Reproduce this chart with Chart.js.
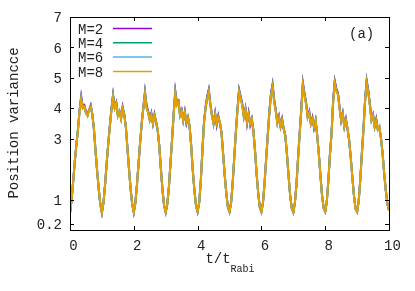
<!DOCTYPE html>
<html>
<head>
<meta charset="utf-8">
<script src="https://cdn.jsdelivr.net/npm/chart.js@4"></script>
<style>
  html, body { margin: 0; padding: 0; background: #fff; }
  #wrap { width: 415px; height: 291px; }
</style>
</head>
<body>
<div id="wrap"><canvas id="chart" width="415" height="291"></canvas></div>
<script>
// 1) Data: t/t_Rabi from 0 to 10 in steps of 0.05
const times = Array.from({ length: 201 }, (_, i) => +(i * 0.05).toFixed(2));
const seriesLabels = ['M=2', 'M=4', 'M=6', 'M=8'];
const yTicks = [0.2, 1, 3, 4, 5, 6, 7];
const xTicks = [0, 2, 4, 6, 8, 10];

const m2 = [
  0.55, 1.0, 1.6, 2.25, 2.8, 3.3, 3.95, 4.4, 4.05, 4.1, 3.9, 3.8, 3.95, 4.1, 3.8, 3.3, 2.6, 1.95, 1.35, 0.85,
  0.57, 0.9, 1.5, 2.2, 2.85, 3.45, 4.0, 4.45, 4.05, 4.2, 3.8, 3.9, 3.7, 4.05, 3.8, 3.4, 2.7, 2.0, 1.35, 0.85,
  0.58, 0.9, 1.5, 2.2, 2.9, 3.55, 4.05, 4.55, 4.1, 3.9, 3.65, 3.85, 3.5, 3.8, 3.55, 3.25, 2.75, 2.0, 1.3, 0.8,
  0.58, 0.85, 1.4, 2.2, 3.0, 3.85, 4.58, 4.2, 4.25, 3.8, 3.95, 3.6, 3.9, 3.5, 3.7, 3.4, 2.75, 1.95, 1.3, 0.8,
  0.6, 0.9, 1.6, 2.6, 3.55, 4.05, 4.4, 4.62, 4.15, 3.8, 3.5, 3.85, 3.45, 3.75, 3.5, 3.2, 2.5, 1.8, 1.2, 0.75,
  0.6, 0.9, 1.55, 2.4, 3.25, 4.0, 4.62, 4.4, 4.15, 3.75, 4.0, 3.5, 3.85, 3.45, 3.65, 3.25, 2.6, 1.85, 1.2, 0.75,
  0.6, 0.9, 1.55, 2.35, 3.15, 3.9, 4.5, 4.8, 4.3, 3.95, 3.55, 3.75, 3.4, 3.65, 3.3, 3.1, 2.5, 1.8, 1.15, 0.72,
  0.58, 0.9, 1.5, 2.4, 3.2, 4.0, 4.85, 4.5, 4.2, 3.75, 3.9, 3.5, 3.7, 3.35, 3.6, 3.1, 2.5, 1.8, 1.15, 0.72,
  0.6, 0.93, 1.64, 2.5, 3.2, 4.3, 4.9, 4.65, 4.5, 4.05, 3.6, 3.85, 3.4, 3.65, 3.3, 2.95, 2.4, 1.75, 1.15, 0.7,
  0.6, 0.95, 1.65, 2.55, 3.35, 4.3, 4.92, 4.6, 4.15, 3.65, 3.8, 3.4, 3.65, 3.3, 3.35, 3.0, 2.5, 1.85, 1.3, 0.85,
  0.65
];

const m4 = [
  0.55, 1.0, 1.6, 2.25, 2.8, 3.32, 3.92, 4.34, 4.02, 4.07, 3.85, 3.77, 3.95, 4.07, 3.8, 3.33, 2.6, 1.95, 1.35, 0.85,
  0.57, 0.9, 1.5, 2.2, 2.85, 3.42, 3.97, 4.42, 4.02, 4.17, 3.77, 3.9, 3.67, 4.02, 3.8, 3.4, 2.7, 2.0, 1.35, 0.85,
  0.58, 0.9, 1.5, 2.2, 2.9, 3.52, 4.02, 4.51, 4.05, 3.87, 3.62, 3.82, 3.5, 3.77, 3.55, 3.28, 2.75, 2.0, 1.3, 0.8,
  0.58, 0.85, 1.4, 2.2, 2.97, 3.82, 4.53, 4.15, 4.22, 3.77, 3.92, 3.6, 3.87, 3.53, 3.7, 3.4, 2.75, 1.95, 1.3, 0.8,
  0.6, 0.9, 1.6, 2.6, 3.52, 4.02, 4.35, 4.58, 4.12, 3.77, 3.5, 3.82, 3.48, 3.72, 3.53, 3.2, 2.5, 1.8, 1.2, 0.75,
  0.6, 0.9, 1.55, 2.4, 3.22, 3.95, 4.58, 4.35, 4.12, 3.72, 3.97, 3.53, 3.82, 3.48, 3.65, 3.25, 2.6, 1.85, 1.2, 0.75,
  0.6, 0.9, 1.55, 2.35, 3.12, 3.88, 4.45, 4.75, 4.25, 3.92, 3.52, 3.72, 3.4, 3.62, 3.33, 3.1, 2.5, 1.8, 1.15, 0.72,
  0.58, 0.9, 1.5, 2.37, 3.17, 3.95, 4.8, 4.45, 4.17, 3.72, 3.87, 3.5, 3.67, 3.38, 3.6, 3.1, 2.5, 1.8, 1.15, 0.72,
  0.6, 0.93, 1.64, 2.5, 3.18, 4.25, 4.86, 4.6, 4.47, 4.02, 3.6, 3.82, 3.4, 3.62, 3.33, 2.95, 2.4, 1.75, 1.15, 0.7,
  0.6, 0.95, 1.65, 2.52, 3.32, 4.25, 4.88, 4.55, 4.12, 3.62, 3.77, 3.4, 3.62, 3.3, 3.38, 3.0, 2.5, 1.85, 1.3, 0.85,
  0.65
];

const m6 = [
  0.55, 1.0, 1.6, 2.25, 2.8, 3.3, 3.9, 4.32, 4.0, 4.05, 3.85, 3.75, 3.95, 4.05, 3.8, 3.35, 2.6, 1.95, 1.35, 0.85,
  0.57, 0.9, 1.5, 2.2, 2.85, 3.4, 3.95, 4.4, 4.0, 4.15, 3.75, 3.9, 3.65, 4.0, 3.8, 3.4, 2.7, 2.0, 1.35, 0.85,
  0.58, 0.9, 1.5, 2.2, 2.9, 3.5, 4.0, 4.48, 4.02, 3.85, 3.6, 3.8, 3.5, 3.75, 3.55, 3.3, 2.75, 2.0, 1.3, 0.8,
  0.58, 0.85, 1.4, 2.2, 2.95, 3.8, 4.5, 4.12, 4.2, 3.75, 3.9, 3.6, 3.85, 3.55, 3.7, 3.4, 2.75, 1.95, 1.3, 0.8,
  0.6, 0.9, 1.6, 2.6, 3.5, 4.0, 4.32, 4.56, 4.1, 3.75, 3.5, 3.8, 3.5, 3.7, 3.55, 3.2, 2.5, 1.8, 1.2, 0.75,
  0.6, 0.9, 1.55, 2.4, 3.2, 3.92, 4.56, 4.32, 4.1, 3.7, 3.95, 3.55, 3.8, 3.5, 3.65, 3.25, 2.6, 1.85, 1.2, 0.75,
  0.6, 0.9, 1.55, 2.35, 3.1, 3.87, 4.42, 4.73, 4.22, 3.9, 3.5, 3.7, 3.4, 3.6, 3.35, 3.1, 2.5, 1.8, 1.15, 0.72,
  0.58, 0.9, 1.5, 2.35, 3.15, 3.92, 4.78, 4.42, 4.15, 3.7, 3.85, 3.5, 3.65, 3.4, 3.6, 3.1, 2.5, 1.8, 1.15, 0.72,
  0.6, 0.93, 1.64, 2.5, 3.17, 4.22, 4.83, 4.57, 4.45, 4.0, 3.6, 3.8, 3.4, 3.6, 3.35, 2.95, 2.4, 1.75, 1.15, 0.7,
  0.6, 0.95, 1.65, 2.5, 3.3, 4.22, 4.86, 4.52, 4.1, 3.6, 3.75, 3.4, 3.6, 3.3, 3.4, 3.0, 2.5, 1.85, 1.3, 0.85,
  0.65
];

const m8 = [
  0.55, 1.0, 1.6, 2.25, 2.8, 3.3, 3.9, 4.3, 4.0, 4.05, 3.85, 3.75, 3.95, 4.05, 3.8, 3.35, 2.6, 1.95, 1.35, 0.85,
  0.57, 0.9, 1.5, 2.2, 2.85, 3.4, 3.95, 4.37, 4.0, 4.15, 3.75, 3.9, 3.65, 4.0, 3.8, 3.4, 2.7, 2.0, 1.35, 0.85,
  0.58, 0.9, 1.5, 2.2, 2.9, 3.5, 4.0, 4.46, 4.0, 3.85, 3.6, 3.8, 3.5, 3.75, 3.55, 3.3, 2.75, 2.0, 1.3, 0.8,
  0.58, 0.85, 1.4, 2.2, 2.95, 3.8, 4.48, 4.1, 4.2, 3.75, 3.9, 3.6, 3.85, 3.55, 3.7, 3.4, 2.75, 1.95, 1.3, 0.8,
  0.6, 0.9, 1.6, 2.6, 3.5, 4.0, 4.3, 4.53, 4.1, 3.75, 3.5, 3.8, 3.5, 3.7, 3.55, 3.2, 2.5, 1.8, 1.2, 0.75,
  0.6, 0.9, 1.55, 2.4, 3.2, 3.9, 4.53, 4.3, 4.1, 3.7, 3.95, 3.55, 3.8, 3.5, 3.65, 3.25, 2.6, 1.85, 1.2, 0.75,
  0.6, 0.9, 1.55, 2.35, 3.1, 3.85, 4.4, 4.7, 4.2, 3.9, 3.5, 3.7, 3.4, 3.6, 3.35, 3.1, 2.5, 1.8, 1.15, 0.72,
  0.58, 0.9, 1.5, 2.35, 3.15, 3.9, 4.75, 4.4, 4.15, 3.7, 3.85, 3.5, 3.65, 3.4, 3.6, 3.1, 2.5, 1.8, 1.15, 0.72,
  0.6, 0.93, 1.64, 2.5, 3.17, 4.2, 4.8, 4.55, 4.45, 4.0, 3.6, 3.8, 3.4, 3.6, 3.35, 2.95, 2.4, 1.75, 1.15, 0.7,
  0.6, 0.95, 1.65, 2.5, 3.3, 4.2, 4.83, 4.5, 4.1, 3.6, 3.75, 3.4, 3.6, 3.3, 3.4, 3.0, 2.5, 1.85, 1.3, 0.85,
  0.65
];

const colors = ['#9400d3', '#009e73', '#56b4e9', '#e69f00'];
const FONT = '"Liberation Mono", "DejaVu Sans Mono", monospace';
const INK = '#222';

// 2) Turn the arrays into {x, y} points
const toPoints = arr => arr.map((v, i) => ({ x: times[i], y: v }));

// M=8 first so it is drawn on top (dataset 0 is painted last in Chart.js)
const datasets = [m8, m6, m4, m2].map((arr, k) => {
  const idx = 3 - k;
  return {
    label: seriesLabels[idx],
    data: toPoints(arr),
    borderColor: colors[idx],
    borderWidth: 2,
    pointRadius: 0,
    tension: 0,
    fill: false
  };
});

// 3) Gnuplot-style frame, inward ticks, tick labels, legend, titles
const framePlugin = {
  id: 'frame',
  afterDraw(chart) {
    const ctx = chart.ctx;
    const a = chart.chartArea;
    const xs = chart.scales.x, ys = chart.scales.y;
    ctx.save();
    ctx.strokeStyle = '#000';
    ctx.lineWidth = 1;
    ctx.strokeRect(Math.round(a.left) + 0.5, Math.round(a.top) + 0.5,
                   Math.round(a.right - a.left), Math.round(a.bottom - a.top));

    // ticks pointing into the plot, mirrored on the far sides
    const len = 4;
    ctx.beginPath();
    yTicks.forEach(v => {
      const y = Math.round(ys.getPixelForValue(v)) + 0.5;
      ctx.moveTo(a.left, y); ctx.lineTo(a.left + len, y);
      ctx.moveTo(a.right, y); ctx.lineTo(a.right - len, y);
    });
    xTicks.forEach(v => {
      const x = Math.round(xs.getPixelForValue(v)) + 0.5;
      ctx.moveTo(x, a.bottom); ctx.lineTo(x, a.bottom - len);
      ctx.moveTo(x, a.top); ctx.lineTo(x, a.top + len);
    });
    ctx.stroke();

    ctx.font = '14px ' + FONT;
    ctx.fillStyle = INK;
    ctx.textBaseline = 'middle';

    // y tick labels, right aligned left of the frame
    ctx.textAlign = 'right';
    yTicks.forEach(v => {
      ctx.fillText(String(v), 62, ys.getPixelForValue(v) + 1.5);
    });

    // x tick labels (gnuplot puts them a few px right of the tick)
    ctx.textAlign = 'center';
    xTicks.forEach(v => {
      ctx.fillText(String(v), xs.getPixelForValue(v) + 3.5, 246);
    });

    // legend: label left, line sample right
    ctx.textAlign = 'left';
    seriesLabels.forEach((lab, i) => {
      const y = 28.5 + i * 14.3;
      ctx.fillText(lab, 78, y + 1.5);
      ctx.beginPath();
      ctx.strokeStyle = colors[i];
      ctx.lineWidth = 1.5;
      ctx.moveTo(113, y); ctx.lineTo(152, y);
      ctx.stroke();
    });

    // panel label
    ctx.fillText('(a)', 349, 34);

    // x title with subscript
    const main = 't/t';
    const w1 = ctx.measureText(main).width;
    ctx.font = '10px ' + FONT;
    const w2 = ctx.measureText('Rabi').width;
    const x0 = 230 - (w1 + w2) / 2;
    ctx.font = '14px ' + FONT;
    ctx.fillText(main, x0, 259);
    ctx.font = '10px ' + FONT;
    ctx.fillText('Rabi', x0 + w1, 269);

    // y title
    ctx.font = '14px ' + FONT;
    ctx.translate(14, 123);
    ctx.rotate(-Math.PI / 2);
    ctx.textAlign = 'center';
    ctx.fillText('Position variancce', 0, 0);
    ctx.restore();
  }
};

// 4) Build the chart
new Chart(document.getElementById('chart'), {
  type: 'line',
  data: { datasets },
  options: {
    responsive: false,
    animation: false,
    layout: { padding: { top: 17, right: 26, left: 0, bottom: 0 } },
    plugins: { legend: { display: false }, tooltip: { enabled: false } },
    scales: {
      x: {
        type: 'linear',
        min: 0,
        max: 10,
        afterFit: s => { s.height = 61; },
        afterBuildTicks: s => { s.ticks = xTicks.map(v => ({ value: v })); },
        grid: { display: false, drawTicks: false },
        border: { display: false },
        ticks: { display: false }
      },
      y: {
        type: 'linear',
        min: 0,
        max: 7,
        afterFit: s => { s.width = 70; },
        afterBuildTicks: s => { s.ticks = yTicks.map(v => ({ value: v })); },
        grid: { display: false, drawTicks: false },
        border: { display: false },
        ticks: { display: false }
      }
    }
  },
  plugins: [framePlugin]
});
</script>
</body>
</html>
